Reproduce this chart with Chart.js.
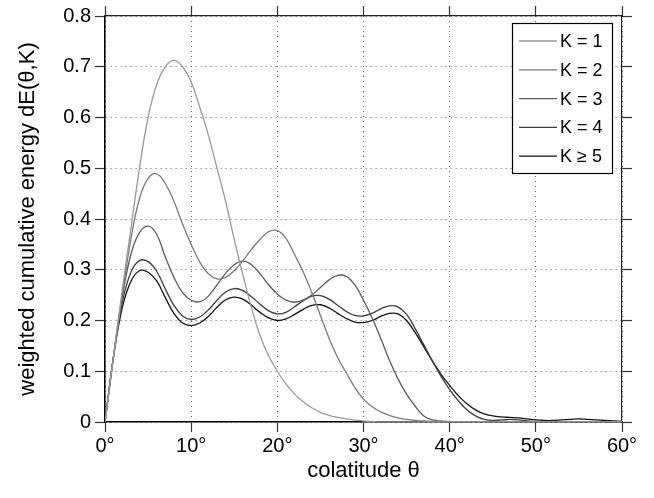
<!DOCTYPE html>
<html>
<head>
<meta charset="utf-8">
<script src="https://cdn.jsdelivr.net/npm/chart.js@4.4.1/dist/chart.umd.min.js"></script>
<style>
  html, body { margin: 0; padding: 0; background: #fff; }
</style>
</head>
<body>
<canvas id="chart" width="654" height="498"></canvas>
<script>
const theta = [0,1,2,3,4,5,6,7,8,9,10,11,12,13,14,15,16,17,18,19,20,21,22,23,24,25,26,27,28,29,30,
  31,32,33,34,35,36,37,38,39,40,41,42,43,44,45,46,47,48,49,50,51,52,53,54,55,56,57,58,59,60];

const k1 = [0,0.13,0.26,0.38,0.5,0.6,0.665,0.70,0.713,0.70,0.67,0.62,0.565,0.50,0.435,0.36,0.29,0.225,0.17,0.13,0.1,
  0.075,0.055,0.04,0.028,0.019,0.013,0.009,0.006,0.004,0.002,0.001,0,0,0,0,0,0,0,0,0,
  0,0,0,0,0,0,0,0,0,0,0,0,0,0,0,0,0,0,0,0];
const k2 = [0,0.13,0.25,0.36,0.44,0.48,0.489,0.47,0.435,0.39,0.35,0.315,0.292,0.282,0.285,0.298,0.318,0.34,0.36,0.375,0.377,
  0.362,0.33,0.296,0.255,0.21,0.165,0.127,0.097,0.068,0.045,0.03,0.02,0.013,0.008,0.005,0.003,0.002,0.001,0,0,
  0,0,0,0,0,0,0,0,0,0,0,0,0,0,0,0,0,0,0,0];
const k3 = [0,0.13,0.245,0.33,0.373,0.386,0.37,0.325,0.285,0.255,0.24,0.237,0.248,0.27,0.293,0.31,0.317,0.31,0.292,0.27,0.252,
  0.24,0.236,0.24,0.25,0.265,0.28,0.289,0.287,0.27,0.24,0.205,0.165,0.122,0.085,0.055,0.031,0.012,0.004,0.002,0.001,
  0,0,0,0,0,0,0,0,0,0,0,0,0,0,0,0,0,0,0,0];
const k4 = [0,0.13,0.235,0.295,0.318,0.316,0.297,0.262,0.23,0.209,0.202,0.207,0.221,0.24,0.256,0.263,0.259,0.247,0.232,0.219,0.213,
  0.216,0.227,0.239,0.248,0.249,0.242,0.23,0.218,0.21,0.209,0.214,0.223,0.229,0.227,0.212,0.184,0.152,0.12,0.09,0.064,
  0.042,0.024,0.012,0.005,0.003,0.004,0.005,0.004,0.002,0.001,0,0,0,0,0,0,0,0,0,0];
const k5 = [0,0.13,0.225,0.277,0.298,0.295,0.278,0.245,0.214,0.195,0.19,0.195,0.208,0.226,0.241,0.246,0.242,0.23,0.216,0.205,0.2,
  0.203,0.212,0.222,0.23,0.231,0.225,0.214,0.204,0.197,0.196,0.2,0.208,0.214,0.213,0.2,0.176,0.148,0.12,0.094,0.072,
  0.052,0.036,0.024,0.016,0.012,0.01,0.009,0.008,0.006,0.004,0.003,0.003,0.004,0.005,0.006,0.005,0.004,0.003,0.002,0.001];

const labels = ['K = 1', 'K = 2', 'K = 3', 'K = 4', 'K \u2265 5'];
const series = [k1, k2, k3, k4, k5];
const colors = ['#9a9a9a', '#7a7a7a', '#5c5c5c', '#3d3d3d', '#141414'];

const FONT = 'Liberation Sans, Arial, Helvetica, sans-serif';

// legend box drawn inside the plot, matlab style
const boxLegend = {
  id: 'boxLegend',
  afterDraw(chart) {
    const ctx = chart.ctx;
    const x0 = 512, y0 = 23, w = 100, h = 150;
    ctx.save();
    ctx.fillStyle = '#fff';
    ctx.fillRect(x0, y0, w, h);
    ctx.strokeStyle = '#000';
    ctx.lineWidth = 1.2;
    ctx.strokeRect(x0 + 0.5, y0 + 0.5, w, h);
    ctx.font = '18px ' + FONT;
    ctx.textBaseline = 'middle';
    chart.data.datasets.forEach((ds, i) => {
      const y = y0 + 18 + i * 28.8;
      ctx.strokeStyle = ds.borderColor;
      ctx.lineWidth = 1.3;
      ctx.beginPath();
      ctx.moveTo(x0 + 7, y);
      ctx.lineTo(x0 + 45, y);
      ctx.stroke();
      ctx.fillStyle = '#000';
      ctx.fillText(ds.label, x0 + 48, y + 1);
    });
    ctx.restore();
  }
};

const tickStyle = { color: '#000', font: { family: FONT, size: 20 } };
const gridStyle = { color: '#666', lineWidth: 1, tickColor: '#333', tickLength: 10, tickWidth: 1.2 };

new Chart(document.getElementById('chart'), {
  type: 'line',
  data: {
    datasets: series.map((s, i) => ({
      label: labels[i],
      data: theta.map((t, j) => ({ x: t, y: s[j] })),
      borderColor: colors[i],
      borderWidth: 1.3,
      pointRadius: 0,
      fill: false,
      tension: 0.4
    }))
  },
  options: {
    responsive: false,
    animation: false,
    layout: { padding: 0 },
    plugins: { legend: { display: false }, tooltip: { enabled: false } },
    scales: {
      x: {
        type: 'linear', position: 'bottom', min: 0, max: 60,
        afterFit: s => { s.height = 76; },
        ticks: { ...tickStyle, stepSize: 10, padding: 2, maxRotation: 0, callback: v => v + '\u00b0' },
        grid: gridStyle,
        border: { color: '#000', width: 1.6, dash: [1, 4] },
        title: { display: true, text: 'colatitude \u03b8', color: '#000', font: { family: FONT, size: 22 }, padding: { top: 0, bottom: 14 } }
      },
      y: {
        type: 'linear', position: 'left', min: 0, max: 0.8,
        afterFit: s => { s.width = 105; },
        ticks: { ...tickStyle, stepSize: 0.1, padding: 4, callback: v => String(+v.toFixed(1)) },
        grid: gridStyle,
        border: { color: '#000', width: 1.6, dash: [1, 4] },
        title: { display: true, text: 'weighted cumulative energy dE(\u03b8,K)', color: '#000', font: { family: FONT, size: 22 }, padding: { top: 15, bottom: 0 } }
      },
      xTop: {
        type: 'linear', position: 'top', min: 0, max: 60,
        afterFit: s => { s.height = 14; },
        ticks: { display: false, stepSize: 10 },
        grid: { ...gridStyle, drawOnChartArea: false },
        border: { color: '#222', width: 1.2 }
      },
      yRight: {
        type: 'linear', position: 'right', min: 0, max: 0.8,
        afterFit: s => { s.width = 32; },
        ticks: { display: false, stepSize: 0.1 },
        grid: { ...gridStyle, drawOnChartArea: false },
        border: { color: '#222', width: 1.2 }
      }
    }
  },
  plugins: [boxLegend]
});
</script>
</body>
</html>
